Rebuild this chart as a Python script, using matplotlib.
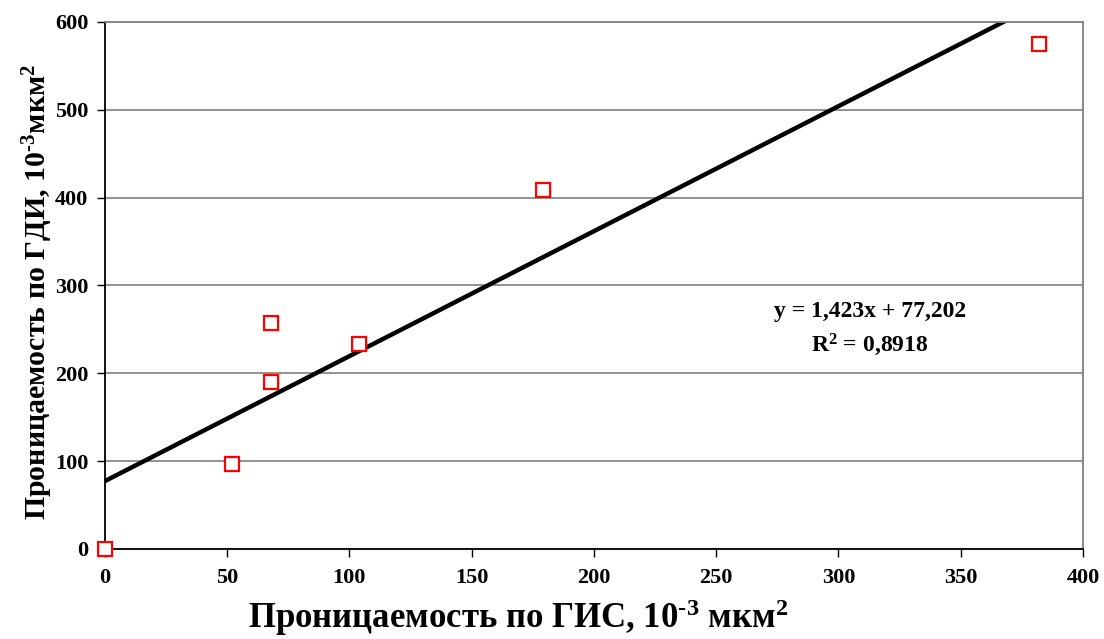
import numpy as np
import matplotlib
matplotlib.use("Agg")
import matplotlib.pyplot as plt

plt.rcParams['font.family'] = ['Liberation Serif', 'DejaVu Serif']
plt.rcParams['font.weight'] = 'bold'
plt.rcParams['mathtext.fontset'] = 'custom'
plt.rcParams['mathtext.rm'] = 'Liberation Serif:bold'
plt.rcParams['mathtext.bf'] = 'Liberation Serif:bold'
plt.rcParams['mathtext.it'] = 'Liberation Serif:bold'
plt.rcParams['mathtext.default'] = 'rm'

# data
gis = [0, 52, 68, 68, 104, 179, 382]
gdi = [0, 97, 190, 257, 233, 409, 575]
slope, intercept = 1.423, 77.202
r2 = 0.8918
x_ticks = [0, 50, 100, 150, 200, 250, 300, 350, 400]
y_ticks = [0, 100, 200, 300, 400, 500, 600]

fig = plt.figure(figsize=(11.04, 6.39), dpi=100)
ax = fig.add_axes([0.095, 0.141, 0.886, 0.8246])

xl = np.array([0, 400])
ax.plot(xl, slope * xl + intercept, color='black', lw=3.2, zorder=2, solid_capstyle='butt')
ax.plot(gis, gdi, linestyle='none', marker='s', markersize=9.5, markerfacecolor='white',
        markeredgecolor='#ff0000', markeredgewidth=1.6, zorder=3, clip_on=False)

ax.set_xlim(0, 400)
ax.set_ylim(0, 600)
ax.set_xticks(x_ticks)
ax.set_yticks(y_ticks)
ax.tick_params(axis='both', direction='out', length=6, width=1, labelsize=16, colors='black')
ax.tick_params(axis='x', pad=8)
ax.tick_params(axis='y', pad=6)
for lab in ax.get_xticklabels() + ax.get_yticklabels():
    lab.set_fontweight('bold')

ax.yaxis.grid(True, color='#808080', lw=1.2)
ax.set_axisbelow(True)
ax.spines['left'].set_color('black')
ax.spines['bottom'].set_color('black')
ax.spines['top'].set_color('#808080')
ax.spines['right'].set_color('#808080')
for s in ax.spines.values():
    s.set_linewidth(1.3)

ax.set_xlabel(r'Проницаемость по ГИС, 10$^{\text{-3}}$ мкм$^{2}$', fontsize=25, fontweight='bold')
ax.set_ylabel(r'Проницаемость по ГДИ, 10$^{\text{-3}}$мкм$^{2}$', fontsize=21.5, fontweight='bold')
ax.xaxis.set_label_coords(0.423, -0.091)
ax.yaxis.set_label_coords(-0.051, 0.488)

fig.text(0.788, 0.512, 'y = 1,423x + 77,202', ha='center', va='center',
         fontsize=17, fontweight='bold')
fig.text(0.788, 0.46, 'R$^{2}$ = 0,8918', ha='center', va='center',
         fontsize=17, fontweight='bold')

fig.savefig('out.png', dpi=100, facecolor='white')
